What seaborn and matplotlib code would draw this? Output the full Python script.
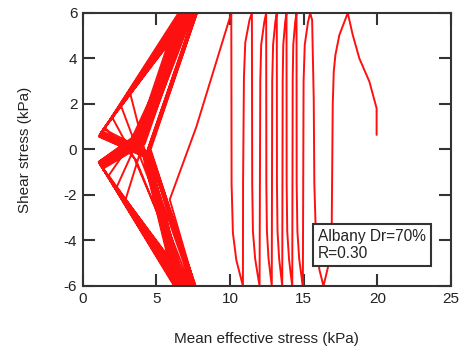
import numpy as np
import pandas as pd
import matplotlib
matplotlib.use("Agg")
import matplotlib.pyplot as plt
import seaborn as sns

# pre-liquefaction stress path (mean effective stress p', shear stress q)
pre_p = [19.95, 19.95, 19.46, 18.78, 18.33, 17.99,
         17.42, 17.15, 17.04, 16.97, 16.90, 16.75, 16.34,
         16.07, 15.85, 15.72, 15.68, 15.57, 15.44,
         15.29, 15.07, 14.99, 14.94,
         14.83, 14.69, 14.57, 14.52, 14.51,
         14.42, 14.29, 14.25, 14.22,
         14.12, 14.00, 13.88, 13.84, 13.83,
         13.74, 13.61, 13.57, 13.54,
         13.45, 13.33, 13.22, 13.18, 13.17,
         13.07, 12.92, 12.86, 12.83,
         12.74, 12.61, 12.50, 12.46, 12.45,
         12.32, 12.11, 12.05, 12.00,
         11.87, 11.70, 11.55, 11.50, 11.48,
         11.32, 11.03, 10.94, 10.88, 10.87,
         10.71, 10.42, 10.19, 10.10, 10.08,
         7.71, 5.90, 7.60]
pre_q = [0.64, 1.81, 2.98, 4.00, 5.03, 6.0,
         5.03, 4.15, 3.42, 1.96, -3.5, -4.9, -6.0,
         -5.3, -4.3, -1.5, 2.2, 5.69, 6.0,
         5.6, 4.6, 3.0, -6.0,
         -5.5, -4.8, -3.6, -1.5, 6.0,
         5.6, 4.6, 3.0, -6.0,
         -5.5, -4.8, -3.6, -1.5, 6.0,
         5.6, 4.6, 3.0, -6.0,
         -5.5, -4.8, -3.6, -1.5, 6.0,
         5.6, 4.6, 3.0, -6.0,
         -5.5, -4.8, -3.6, -1.5, 6.0,
         5.6, 4.6, 3.0, -6.0,
         -5.5, -4.8, -3.6, -1.5, 6.0,
         5.7, 4.7, 3.2, -1.5, -6.0,
         -5.6, -4.86, -3.67, -1.5, 6.0,
         1.0, -2.2, -6.0]

# butterfly half-cycles after liquefaction (alternating up / down, starting upward)
# cross_p/cross_q: where the unloading branch ends near the centre,
# tip_p/tip_q: turn point on the failure line, end_p: p' at the +/-6 kPa limit
cross_p = [4.60, 4.55, 4.52, 4.50, 4.48, 4.45, 4.42, 4.40,
           4.30, 4.10, 3.90, 3.70, 3.50, 3.40, 3.60, 3.30,
           4.40, 4.20, 4.35, 4.15, 4.30, 4.10, 4.30, 4.05, 4.25, 4.00, 4.25, 3.95,
           4.20, 3.90, 4.20, 3.85, 4.15, 3.80, 4.10, 3.75]
cross_q = [0.0, 0.0, 0.0, 0.0, 0.0, 0.0, 0.0, 0.0,
           0.30, 0.30, 0.35, 0.35, 0.40, 0.40, 0.45, 0.45,
           0.10, 0.25, 0.10, 0.30, 0.15, 0.35, 0.15, 0.40, 0.20, 0.45, 0.20, 0.50,
           0.25, 0.55, 0.25, 0.60, 0.30, 0.65, 0.30, 0.70]
tip_p = [4.60, 4.55, 4.52, 4.50, 4.48, 4.45, 4.42, 4.40,
         3.20, 2.90, 2.60, 2.30, 2.00, 1.75, 1.50, 1.35,
         1.40, 1.35, 1.30, 1.28, 1.25, 1.22, 1.20, 1.18, 1.16, 1.14, 1.15, 1.12,
         1.13, 1.10, 1.12, 1.10, 1.11, 1.08, 1.10, 1.08]
tip_q = [0.0, 0.0, 0.0, 0.0, 0.0, 0.0, 0.0, 0.0,
         2.50, 2.20, 1.90, 1.65, 1.40, 1.15, 0.95, 0.80,
         0.90, 0.85, 0.80, 0.78, 0.75, 0.70, 0.70, 0.66, 0.66, 0.62, 0.64, 0.60,
         0.62, 0.58, 0.60, 0.56, 0.58, 0.55, 0.56, 0.54]
end_p = [7.75, 7.65, 7.70, 7.55, 7.65, 7.45, 7.60, 7.40,
         7.50, 7.30, 7.40, 7.20, 7.35, 7.05, 7.30, 6.90,
         7.30, 6.95, 7.20, 6.85, 7.10, 6.75, 7.00, 6.65, 6.95, 6.55, 6.85, 6.45,
         6.80, 6.35, 6.70, 6.30, 6.60, 6.25, 6.50, 6.20]
q_limit = 6.0

p_path = list(pre_p)
q_path = list(pre_q)
sign = 1
for c, cq, tp, tq, e in zip(cross_p, cross_q, tip_p, tip_q, end_p):
    p_path += [c, tp, e]
    q_path += [-sign * cq, sign * tq, sign * q_limit]
    sign = -sign

df = pd.DataFrame({"p": p_path, "q": q_path})

sns.set_style("ticks")
plt.rcParams["font.family"] = ["Liberation Sans", "DejaVu Sans"]
plt.rcParams["axes.unicode_minus"] = False

fig = plt.figure(figsize=(4.63, 3.5), dpi=100)
ax = fig.add_axes([0.179, 0.183, 0.795, 0.78])
sns.lineplot(data=df, x="p", y="q", sort=False, estimator=None, color="#ff1010",
             linewidth=1.4, ax=ax)

ax.set_xlim(0, 25)
ax.set_ylim(-6, 6)
ax.set_xticks([0, 5, 10, 15, 20, 25])
ax.set_yticks([-6, -4, -2, 0, 2, 4, 6])
ax.tick_params(direction="in", length=8.5, width=1.5, color="#333333", top=True, right=True,
               labelsize=11, labelcolor="#222222", pad=4)
for s in ax.spines.values():
    s.set_linewidth(1.5)
    s.set_color("#333333")
ax.set_xlabel("Mean effective stress (kPa)", fontsize=11, labelpad=19, color="#222222")
ax.set_ylabel("Shear stress (kPa)", fontsize=11, labelpad=23, color="#222222")

ax.text(0.639, 0.150, "Albany Dr=70%\nR=0.30", transform=ax.transAxes, fontsize=11.2,
        color="#222222", va="center", ha="left", linespacing=1.15,
        bbox=dict(boxstyle="square,pad=0.35", fc="white", ec="#333333", lw=1.5))

fig.savefig("out.png", dpi=100)
